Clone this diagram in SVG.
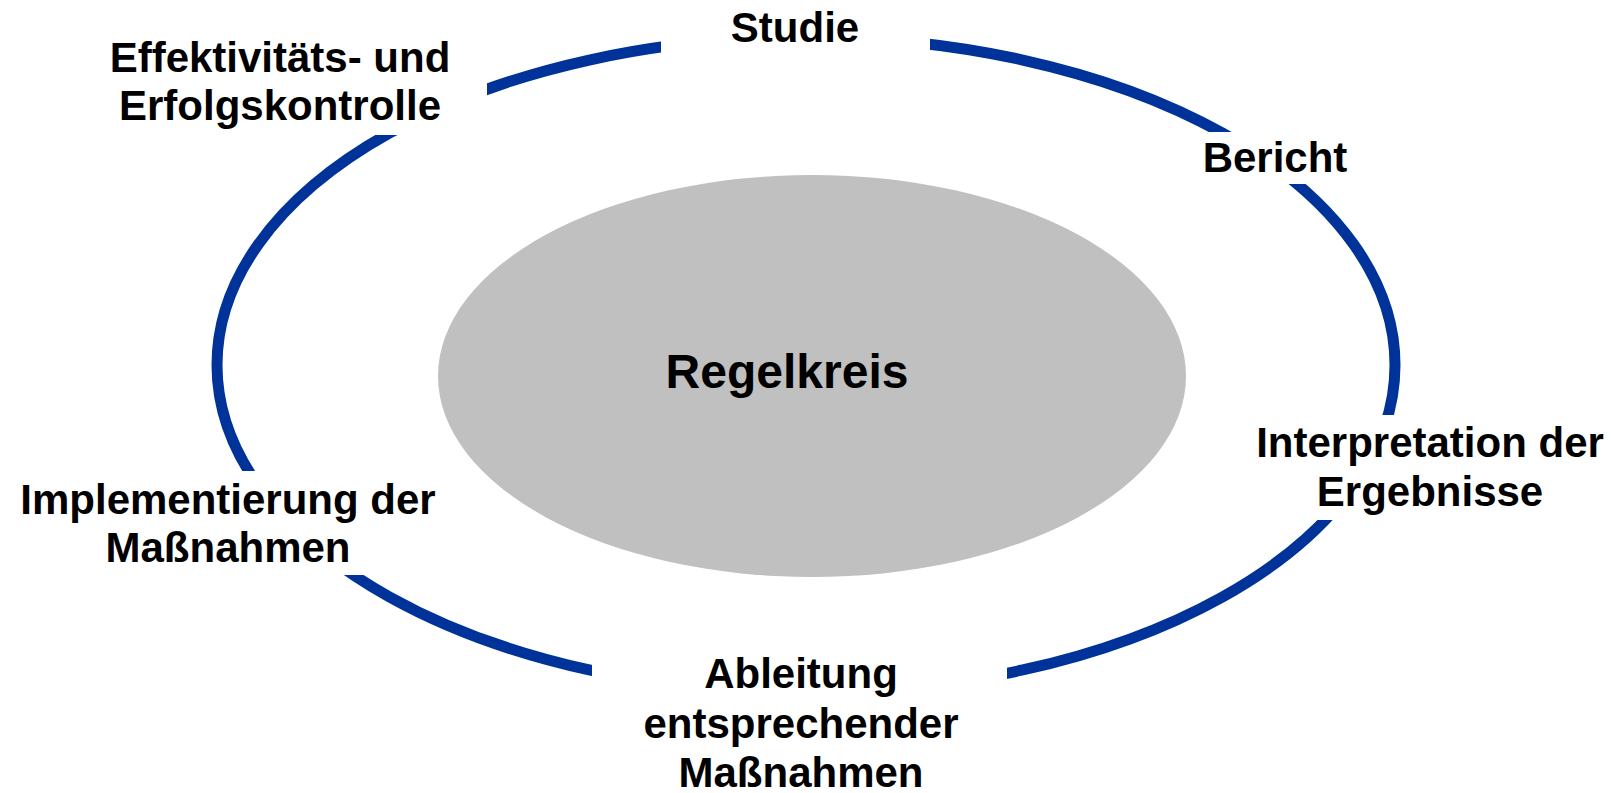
<svg xmlns="http://www.w3.org/2000/svg" width="1611" height="793" viewBox="0 0 1611 793">
<style>
.lbl{font-family:"Liberation Sans",Arial,sans-serif;font-weight:bold;font-size:42px;fill:#000;text-anchor:middle}
.bg{fill:#fff}
.ring{fill:none;stroke:#003399;stroke-width:11}
</style>
<rect width="1611" height="793" fill="#fff"/>
<g id="connectors">
<ellipse class="ring" cx="806" cy="365" rx="589" ry="328"/>
</g>
<g id="center">
<ellipse cx="812" cy="376" rx="374" ry="201" fill="#c0c0c0"/>
<text class="lbl" x="787" y="388" style="font-size:48px">Regelkreis</text>
</g>
<g id="studie">
<rect class="bg" x="661" y="0" width="269" height="80"/>
<text class="lbl" x="795" y="42">Studie</text>
</g>
<g id="bericht">
<rect class="bg" x="1180" y="132" width="170" height="52"/>
<text class="lbl" x="1275" y="172">Bericht</text>
</g>
<g id="interpretation">
<rect class="bg" x="1250" y="415" width="361" height="105"/>
<text class="lbl" x="1430" y="457">Interpretation der</text>
<text class="lbl" x="1430" y="506">Ergebnisse</text>
</g>
<g id="ableitung">
<rect class="bg" x="592" y="630" width="415" height="163"/>
<text class="lbl" x="801" y="688">Ableitung</text>
<text class="lbl" x="801" y="738">entsprechender</text>
<text class="lbl" x="801" y="787">Maßnahmen</text>
</g>
<g id="implementierung">
<rect class="bg" x="0" y="471" width="440" height="104"/>
<text class="lbl" x="228" y="514">Implementierung der</text>
<text class="lbl" x="228" y="562">Maßnahmen</text>
</g>
<g id="effektivitaet">
<rect class="bg" x="100" y="30" width="387" height="105"/>
<text class="lbl" x="280" y="72">Effektivitäts- und</text>
<text class="lbl" x="280" y="120">Erfolgskontrolle</text>
</g>
</svg>
